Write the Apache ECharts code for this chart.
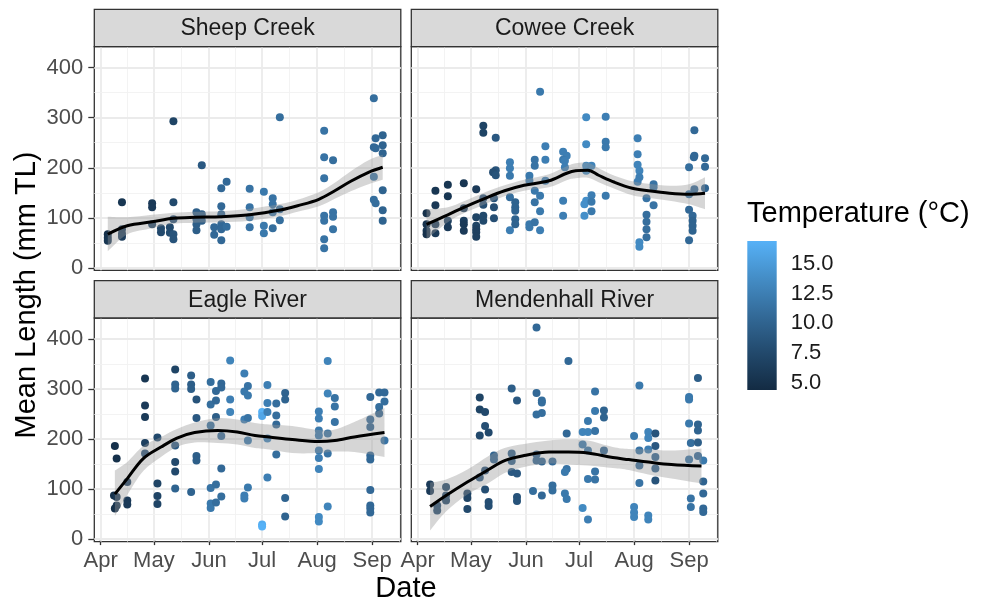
<!DOCTYPE html>
<html>
<head>
<meta charset="utf-8">
<script src="https://cdn.jsdelivr.net/npm/echarts@6/dist/echarts.min.js"></script>
<style>
  html, body { margin: 0; padding: 0; background: #ffffff; }
  #chart { width: 984px; height: 602px; }
</style>
</head>
<body>
<div id="chart"></div>
<script>
// ---- axis breaks (x = day of year) ----
const monthStarts = [91, 121, 152, 182, 213, 244];
const monthLabels = ['Apr', 'May', 'Jun', 'Jul', 'Aug', 'Sep'];
const monthMinor = [106, 136.5, 167, 197.5, 228.5, 259.5];
const lengthBreaks = [0, 100, 200, 300, 400];
const lengthMinor = [50, 150, 250, 350];
const tempBreaks = [5, 7.5, 10, 12.5, 15];
const tempMin = 4.39, tempMax = 16.94;

// ---- sampled fish: [day of year, mean length (mm TL), temperature (°C)] ----
const sheepCreek = [
  [95,67,5.0],[95,60,5.2],[95,54,5.5],
  [103,131,5.5],[103,77,6.0],[103,68,6.0],[103,62,6.2],
  [120,129,6.0],[120,121,6.0],[120,87,7.0],
  [125,79,7.5],[125,71,7.5],[130,81,7.5],[130,70,7.8],
  [132,293,7.0],[132,131,7.5],[132,97,8.0],[132,67,8.5],[132,57,8.5],
  [145,111,9.5],[145,97,9.5],[145,87,9.5],[145,75,9.5],
  [148,205,9.0],[148,107,9.5],[148,94,9.5],
  [155,81,10.5],[155,66,10.5],
  [159,159,10.5],[159,123,10.5],[159,107,10.5],[159,87,10.5],[159,77,10.5],[159,55,10.5],
  [162,172,10.5],[162,82,11.0],
  [175,158,11.5],[175,121,11.5],[175,101,11.5],[175,81,11.5],
  [183,152,12.0],[183,84,12.0],[183,69,12.0],
  [188,139,11.5],[188,127,11.5],[188,111,11.5],[188,79,11.0],
  [192,301,11.0],[192,117,11.0],[192,95,11.0],
  [217,274,11.5],[217,221,11.5],[217,179,11.5],[217,104,11.5],[217,94,11.5],[217,57,11.5],[217,39,11.5],
  [222,215,11.0],[222,111,11.5],[222,102,11.5],[222,77,11.5],
  [245,339,11.0],[246,259,10.5],[250,265,10.0],[250,245,10.0],[245,241,10.5],[246,239,10.5],[250,229,10.0],
  [245,182,11.5],[250,155,10.0],[245,136,11.0],[246,129,11.0],[250,115,10.0],[250,94,10.0]
];
const coweeCreek = [
  [96,109,5.0],[96,87,5.2],[96,74,5.5],[96,67,5.0],
  [101,154,5.5],[101,125,5.8],[101,87,6.0],[101,69,6.0],
  [108,166,5.5],[108,143,5.5],[108,94,6.5],[108,81,6.0],
  [117,169,5.5],[117,119,6.0],[117,94,6.5],[117,87,6.0],[117,74,6.0],
  [124,157,6.0],[124,101,7.0],[124,84,7.0],[124,77,6.5],[124,71,6.5],[124,62,6.5],
  [128,284,7.0],[128,270,7.0],[128,139,8.0],[128,126,8.0],[128,104,7.5],[128,94,7.5],
  [134,139,8.5],[134,121,8.0],[134,99,8.0],
  [135,260,9.0],[135,195,8.5],[133.5,191,8.0],[135,185,8.5],
  [143,211,12.5],[143,199,12.5],[143,184,12.0],[143,141,11.0],[143,75,12.5],
  [146,131,10.0],[146,121,10.0],[146,114,10.0],[146,97,10.0],[146,87,10.0],
  [154,184,12.0],[154,174,12.0],[154,87,12.0],[154,81,12.0],
  [157,216,11.5],[157,204,11.5],[157,154,12.0],[157,131,11.5],[157,91,11.5],
  [160,352,12.0],[160,144,12.0],[160,113,12.0],[160,75,12.5],
  [163,243,12.5],[163,216,12.5],[163,174,12.5],
  [173,232,12.5],[175,224,12.5],[173,216,12.0],[174,214,12.5],[174,201,12.5],[173,134,12.5],[173,104,12.5],
  [186,301,13.5],[186,247,13.5],[186,204,13.5],[186,194,13.5],[186,134,14.0],[185,127,14.0],[185,104,14.0],
  [189,204,13.0],[189,145,12.5],[189,132,12.0],[189,113,12.0],
  [197,302,12.5],[197,252,12.0],[197,241,12.0],[197,144,12.0],
  [215,259,12.5],[215,227,12.5],[215,206,13.0],[216,194,13.0],[216,181,12.5],[215,172,12.5],[216,51,13.5],[216,42,13.5],
  [220,139,11.5],[220,106,11.0],[220,92,11.0],[220,77,11.0],[220,61,11.0],
  [224,167,11.5],[224,161,11.5],[224,125,11.5],
  [247,275,10.5],[247,224,10.5],[246.7,221,10.5],[244,201,11.0],[253,219,10.5],[253,202,10.5],[244,147,11.5],
  [247,157,10.5],[253,159,10.0],[244,116,10.5],[246,104,10.5],[246,94,10.0],[246,84,10.0],[246,74,10.0],[244,55,10.5]
];
const eagleRiver = [
  [99,186,5.0],[100,161,5.0],[98.5,87,5.0],[100,84,5.5],[100,67,5.5],[99,61,5.0],
  [106,114,6.5],[106,77,6.0],[106,69,6.0],
  [116,321,5.5],[116,267,6.0],[116,244,6.0],[116,192,6.5],[116,171,8.0],
  [123,203,7.5],[123,111,7.0],[123,86,7.0],[123,70,7.0],
  [133,339,7.0],[133,309,10.0],[133,301,10.0],[133,187,9.0],[133,154,7.5],[133,135,7.5],[133,101,10.0],
  [142,327,9.5],[142,309,9.5],[142,300,9.5],[142,94,10.0],
  [145,279,8.5],[145,242,9.0],[145,166,9.5],[145,157,9.5],
  [153,314,11.0],[153,269,11.0],[153,227,11.0],[153,102,11.5],[153,71,12.0],[153,62,12.0],
  [156,296,10.5],[156,277,10.5],[156,244,9.5],[156,109,11.0],[156,73,11.0],
  [159,311,10.5],[159,303,10.5],[159,206,10.5],[159,141,10.5],[159,85,11.0],
  [164,357,13.0],[164,279,12.5],[164,254,13.0],
  [172,331,12.5],[172,295,12.0],[172,239,12.5],[172,87,12.5],[172,81,12.5],
  [174,306,11.5],[174,287,12.0],[174,242,11.5],[174,197,12.0],[174,103,12.0],
  [182,254,16.9],[182,246,16.0],[182,29,16.5],[182,25,16.9],
  [185,308,12.5],[185,272,12.5],[185,254,12.5],[185,201,13.0],[185,123,12.5],
  [190,271,11.0],[190,247,11.0],[190,229,10.5],[190,169,11.0],
  [195,292,10.0],[195,279,10.0],[195,82,10.0],[195,45,10.0],
  [214,255,12.5],[214,241,12.5],[214,217,12.0],[214,207,12.0],[214,177,12.0],[214,162,12.5],[214,140,13.0],[214,44,13.5],[214,35,13.5],
  [219,356,13.0],[219,291,13.0],[219,211,11.5],[219,171,11.5],[219,65,13.0],
  [223,282,11.5],[223,265,11.5],[223,234,11.5],
  [243,284,10.5],[243,239,10.5],[243,224,10.0],[243,167,10.5],[243,159,10.5],[243,98,10.5],[243,67,10.5],[243,61,10.5],[243,53,10.5],
  [248,293,10.5],[251,293,10.5],[251,275,11.0],[248,264,11.0],[248,251,10.0],[251,197,11.5]
];
const mendenhallRiver = [
  [98,109,6.0],[98,96,6.0],
  [102,67,7.5],[102,57,7.5],
  [107,104,7.0],[107,87,7.5],[107,77,7.0],
  [119,91,7.0],[119,82,7.0],[119,60,7.5],
  [126,283,7.0],[126,259,7.0],[126,207,7.5],[126,123,8.5],
  [129,254,7.5],[129,226,8.0],[129,137,8.0],[129,99,8.0],
  [131,213,7.5],[131,74,8.0],[131,66,8.0],
  [134,167,10.0],[134,159,10.0],
  [144,301,9.5],[144,171,9.5],[144,156,9.5],[144,134,9.0],
  [147,277,9.0],[147,131,9.0],[147,84,8.5],[147,76,8.5],
  [156,96,11.0],
  [158,423,10.5],[158,292,10.5],[158,249,11.0],[158,169,10.0],[158,157,10.0],
  [161,277,11.0],[161,273,11.0],[161,252,11.0],[161,155,10.0],[161,87,10.5],
  [167,155,10.5],[167,107,11.0],[167,97,11.0],
  [176,356,10.5],[175,211,10.5],[175,140,11.5],[174,134,12.0],[174,91,12.0],[175,80,12.0],
  [184,214,13.0],[184,189,12.0],[184,62,13.5],
  [187,236,12.0],[187,214,13.0],[187,177,11.5],[187,120,12.0],[187,39,12.5],
  [191,295,11.5],[191,256,12.0],[191,216,11.5],[191,135,11.5],[191,119,11.5],
  [196,257,10.0],[196,243,10.0],[196,177,10.0],
  [213,206,12.0],[213,64,13.0],[213,53,13.0],[213,44,13.0],
  [216,307,12.0],[216,177,11.5],[216,147,10.5],[216,112,11.5],
  [221,214,13.0],[221,202,13.0],[221,179,12.5],[221,47,13.0],[221,39,13.0],
  [225,211,8.5],[225,186,9.0],[225,164,10.0],[225,141,9.5],[225,117,8.5],
  [249,322,9.5],[244,284,12.0],[244,279,12.0],[244,231,12.0],[249,229,10.0],[249,217,10.0],[245,192,11.0],
  [249,193,9.5],[244,159,11.5],[249,166,10.5],[252,157,12.0],[252,115,10.0],[252,91,10.5],[245,81,11.5],
  [245,64,11.5],[252,61,10.5],[252,54,10.5]
];

// ---- smoothed trend with confidence band ----
const sheepFitDay = [95, 106, 120, 132, 144, 159, 175, 193, 202, 214, 223, 232, 242, 250];
const sheepFit    = [67, 84, 92, 99, 101, 102, 106, 116, 124, 137, 154, 173, 191, 201];
const sheepLo     = [33, 67, 79, 88, 90, 91, 94, 104, 112, 123, 138, 153, 167, 176];
const sheepHi     = [102, 101, 106, 110, 112, 113, 118, 128, 136, 151, 170, 193, 215, 226];

const coweeFitDay = [96, 108, 117, 129, 140, 151, 165, 175, 180, 187, 193, 202, 212, 221, 233, 244, 253];
const coweeFit    = [87, 106, 121, 139, 154, 165, 174, 189, 194, 195, 185, 171, 159, 154, 149, 147, 149];
const coweeLo     = [57, 91, 109, 127, 143, 154, 161, 175, 179, 180, 171, 158, 145, 140, 134, 127, 117];
const coweeHi     = [117, 121, 133, 151, 165, 176, 187, 203, 209, 210, 199, 184, 173, 168, 164, 167, 181];

const eagleFitDay = [99, 106, 115, 125, 134, 144, 157, 168, 178, 186, 199, 214, 223, 234, 251];
const eagleFit    = [90, 121, 161, 184, 202, 213, 217, 214, 207, 204, 199, 195, 197, 204, 213];
const eagleLo     = [46, 88, 136, 164, 184, 193, 192, 189, 182, 179, 172, 172, 175, 174, 164];
const eagleHi     = [137, 154, 186, 204, 220, 233, 242, 239, 232, 229, 226, 218, 219, 234, 262];

const mendenhallFitDay = [98, 107, 119, 131, 140, 151, 165, 176, 187, 201, 210, 221, 234, 251];
const mendenhallFit    = [65, 87, 114, 139, 157, 167, 174, 174, 172, 163, 159, 154, 149, 146];
const mendenhallLo     = [17, 55, 89, 112, 132, 144, 151, 149, 147, 142, 138, 129, 121, 111];
const mendenhallHi     = [113, 119, 139, 166, 182, 190, 197, 199, 197, 184, 180, 179, 177, 181];

const siteNames = ['Sheep Creek', 'Cowee Creek', 'Eagle River', 'Mendenhall River'];
const sitePoints = [sheepCreek, coweeCreek, eagleRiver, mendenhallRiver];
const siteFits = [
  { day: sheepFitDay, fit: sheepFit, lo: sheepLo, hi: sheepHi },
  { day: coweeFitDay, fit: coweeFit, lo: coweeLo, hi: coweeHi },
  { day: eagleFitDay, fit: eagleFit, lo: eagleLo, hi: eagleHi },
  { day: mendenhallFitDay, fit: mendenhallFit, lo: mendenhallLo, hi: mendenhallHi }
];

// colour ramp dark navy -> light blue (Lab-spaced stops)
const tempColors = ['#132B43', '#22496C', '#336A98', '#448DC6', '#56B1F7'];

// ---- layout ----
const FONT = '"Liberation Sans", Arial, Helvetica, sans-serif';
const panelLeft = [94.3, 411.3];
const panelTop = [46.7, 318];
const panelW = 306.5, panelH = 223.6, stripH = 37.4;
const xMin = 87.4, xMax = 260.2;
const yMin = -5, yMax = 442;

const majorGrid = { color: '#ebebeb', width: 1.8, type: 'solid' };
const minorGrid = { color: '#f2f2f2', width: 0.9, type: 'solid' };
const gridLineData = [].concat(
  monthStarts.map(v => ({ xAxis: v, lineStyle: majorGrid })),
  monthMinor.map(v => ({ xAxis: v, lineStyle: minorGrid })),
  lengthBreaks.map(v => ({ yAxis: v, lineStyle: majorGrid })),
  lengthMinor.map(v => ({ yAxis: v, lineStyle: minorGrid }))
);

// Catmull-Rom style cubic segments through pixel points
function curveSegments(pts) {
  let d = '';
  for (let i = 0; i < pts.length - 1; i++) {
    const p0 = pts[i - 1] || pts[i], p1 = pts[i], p2 = pts[i + 1], p3 = pts[i + 2] || pts[i + 1];
    const c1x = p1[0] + (p2[0] - p0[0]) / 6, c1y = p1[1] + (p2[1] - p0[1]) / 6;
    const c2x = p2[0] - (p3[0] - p1[0]) / 6, c2y = p2[1] - (p3[1] - p1[1]) / 6;
    d += ' C ' + c1x + ' ' + c1y + ' ' + c2x + ' ' + c2y + ' ' + p2[0] + ' ' + p2[1];
  }
  return d;
}

const grids = [], xAxes = [], yAxes = [], series = [], graphics = [];
const scatterIdx = [];

siteNames.forEach((name, i) => {
  const col = i % 2, row = Math.floor(i / 2);
  const left = panelLeft[col], top = panelTop[row];
  const bottomRow = row === 1, leftCol = col === 0;

  grids.push({
    left: left, top: top, width: panelW, height: panelH,
    show: true, backgroundColor: '#ffffff', borderColor: '#333333', borderWidth: 1.3
  });
  xAxes.push({
    type: 'value', gridIndex: i, min: xMin, max: xMax,
    axisLine: { show: false }, splitLine: { show: false },
    axisTick: { show: bottomRow, customValues: monthStarts, length: 6, lineStyle: { color: '#333333', width: 1.3 } },
    axisLabel: {
      show: bottomRow, customValues: monthStarts,
      formatter: v => monthLabels[monthStarts.indexOf(v)],
      fontSize: 22, color: '#4d4d4d', fontFamily: FONT, margin: 8
    }
  });
  yAxes.push({
    type: 'value', gridIndex: i, min: yMin, max: yMax,
    axisLine: { show: false }, splitLine: { show: false },
    axisTick: { show: leftCol, customValues: lengthBreaks, length: 6, lineStyle: { color: '#333333', width: 1.3 } },
    axisLabel: {
      show: leftCol, customValues: lengthBreaks,
      fontSize: 22, color: '#4d4d4d', fontFamily: FONT, margin: 11
    }
  });

  scatterIdx.push(series.length);
  series.push({
    type: 'scatter', name: name, xAxisIndex: i, yAxisIndex: i, z: 2,
    data: sitePoints[i], symbol: 'circle', symbolSize: 8,
    itemStyle: { opacity: 1 },
    markLine: {
      silent: true, symbol: 'none', z: 1, animation: false,
      label: { show: false }, emphasis: { disabled: true },
      data: gridLineData
    }
  });

  const f = siteFits[i];
  series.push({
    type: 'custom', xAxisIndex: i, yAxisIndex: i, z: 3, silent: true,
    data: f.day.map((d, k) => [d, f.lo[k], f.hi[k]]),
    renderItem: function (params, api) {
      if (params.dataIndex !== 0) return;
      const upper = f.day.map((d, k) => api.coord([d, f.hi[k]]));
      const lower = f.day.map((d, k) => api.coord([d, f.lo[k]])).reverse();
      const pathData = 'M ' + upper[0][0] + ' ' + upper[0][1] + curveSegments(upper) +
        ' L ' + lower[0][0] + ' ' + lower[0][1] + curveSegments(lower) + ' Z';
      return { type: 'path', shape: { pathData: pathData }, style: { fill: 'rgba(153,153,153,0.4)' } };
    }
  });
  series.push({
    type: 'line', xAxisIndex: i, yAxisIndex: i, z: 4, silent: true,
    data: f.day.map((d, k) => [d, f.fit[k]]),
    smooth: 0.35, showSymbol: false, symbol: 'none',
    lineStyle: { color: '#000000', width: 3 }
  });

  // facet strip
  graphics.push({
    type: 'rect', silent: true, z: 10,
    shape: { x: left, y: top - stripH, width: panelW, height: stripH },
    style: { fill: '#d9d9d9', stroke: '#333333', lineWidth: 1.3 }
  });
  graphics.push({
    type: 'text', silent: true, z: 11,
    x: left + panelW / 2, y: top - stripH / 2 + 1,
    style: { text: name, fill: '#1a1a1a', font: '23px ' + FONT, align: 'center', verticalAlign: 'middle' }
  });
});

// colour bar
const cbIndex = grids.length;
grids.push({ left: 747.3, top: 241, width: 29.4, height: 149, show: false });
xAxes.push({ type: 'category', gridIndex: cbIndex, data: ['t'], show: false });
yAxes.push({
  type: 'value', gridIndex: cbIndex, min: tempMin, max: tempMax, position: 'right', z: 10,
  axisLine: { show: false }, splitLine: { show: false },
  axisTick: { customValues: tempBreaks, inside: true, length: 6, lineStyle: { color: '#ffffff', width: 1 } },
  axisLabel: { customValues: tempBreaks, formatter: v => v.toFixed(1), fontSize: 22, color: '#1a1a1a', fontFamily: FONT, margin: 14 }
});
yAxes.push({
  type: 'value', gridIndex: cbIndex, min: tempMin, max: tempMax, position: 'left', z: 10,
  axisLine: { show: false }, splitLine: { show: false },
  axisTick: { customValues: tempBreaks, inside: true, length: 6, lineStyle: { color: '#ffffff', width: 1 } },
  axisLabel: { show: false }
});
series.push({
  type: 'bar', xAxisIndex: cbIndex, yAxisIndex: cbIndex, stack: 'cb', silent: true,
  barWidth: '100%', data: [tempMin], itemStyle: { color: 'rgba(0,0,0,0)' }
});
series.push({
  type: 'bar', xAxisIndex: cbIndex, yAxisIndex: cbIndex, stack: 'cb', silent: true,
  barWidth: '100%', data: [tempMax - tempMin],
  itemStyle: {
    color: new echarts.graphic.LinearGradient(0, 1, 0, 0,
      tempColors.map((c, k) => ({ offset: k / (tempColors.length - 1), color: c })))
  }
});

// axis and legend titles
graphics.push({
  type: 'text', silent: true, x: 27, y: 295, rotation: Math.PI / 2,
  style: { text: 'Mean Length (mm TL)', fill: '#000000', font: '29px ' + FONT, align: 'center', verticalAlign: 'middle' }
});
graphics.push({
  type: 'text', silent: true, x: 406, y: 589,
  style: { text: 'Date', fill: '#000000', font: '29px ' + FONT, align: 'center', verticalAlign: 'middle' }
});
graphics.push({
  type: 'text', silent: true, x: 747, y: 214,
  style: { text: 'Temperature (°C)', fill: '#000000', font: '29px ' + FONT, align: 'left', verticalAlign: 'middle' }
});

const chart = echarts.init(document.getElementById('chart'), null, { renderer: 'canvas' });
chart.setOption({
  animation: false,
  backgroundColor: '#ffffff',
  grid: grids,
  xAxis: xAxes,
  yAxis: yAxes,
  visualMap: {
    type: 'continuous', show: false, dimension: 2,
    min: tempMin, max: tempMax, seriesIndex: scatterIdx,
    inRange: { color: tempColors }
  },
  graphic: graphics,
  series: series
});
</script>
</body>
</html>
